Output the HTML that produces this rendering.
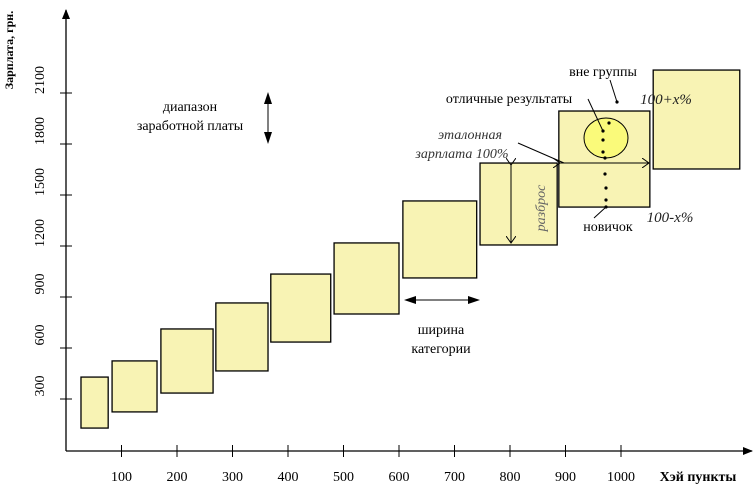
<!DOCTYPE html>
<html><head><meta charset="utf-8"><style>
body{margin:0;background:#fff}
svg{display:block;font-family:"Liberation Serif",serif}
</style></head><body>
<svg id="c" width="755" height="487" viewBox="0 0 755 487">
<defs>
<marker id="ah" markerWidth="10" markerHeight="8" refX="9" refY="4" orient="auto" markerUnits="userSpaceOnUse"><path d="M0,0L10,4L0,8z" fill="#000"/></marker>
<marker id="oa" markerWidth="8" markerHeight="10" refX="7" refY="5" orient="auto" markerUnits="userSpaceOnUse"><path d="M0,0L7,5L0,10" fill="none" stroke="#000"/></marker>
</defs>
<g id="boxes"></g>
<g id="axes"></g>
<g>
<text x="190" y="111" font-size="14" text-anchor="middle">диапазон</text>
<text x="190" y="130" font-size="14" text-anchor="middle">заработной платы</text>
<path d="M264,104L268,92L272,104z" fill="#000"/>
<line x1="268" y1="104" x2="268" y2="132" stroke="#000"/>
<path d="M264,132L268,144L272,132z" fill="#000"/>
<line x1="416" y1="300" x2="468" y2="300" stroke="#000"/>
<path d="M416,296L404,300L416,304z M468,296L480,300L468,304z" fill="#000"/>
<text x="441" y="334" font-size="14" text-anchor="middle">ширина</text>
<text x="441" y="353" font-size="14" text-anchor="middle">категории</text>
<line x1="511" y1="165" x2="511" y2="243" stroke="#000" marker-end="url(#oa)" marker-start="url(#oa)"/>
<text transform="translate(545,208) rotate(-90)" font-size="14" font-style="italic" fill="#666" text-anchor="middle">разброс</text>
<line x1="560" y1="163" x2="649" y2="163" stroke="#000" marker-end="url(#oa)" marker-start="url(#oa)"/>
<line x1="518" y1="143" x2="564" y2="163" stroke="#000"/>
<text x="470" y="139" font-size="14" font-style="italic" fill="#333" text-anchor="middle">эталонная</text>
<text x="462" y="158" font-size="14" font-style="italic" fill="#333" text-anchor="middle">зарплата 100%</text>
<ellipse cx="606" cy="138" rx="22" ry="20" fill="#fafa7a" stroke="#000"/>
<g fill="#000">
<circle cx="609" cy="123" r="1.6"/><circle cx="603" cy="131" r="1.6"/><circle cx="603" cy="140" r="1.6"/><circle cx="603" cy="152" r="1.6"/>
<circle cx="605" cy="158" r="1.6"/><circle cx="605" cy="174" r="1.6"/><circle cx="606" cy="188" r="1.6"/><circle cx="606" cy="200" r="1.6"/><circle cx="606" cy="207" r="1.6"/><circle cx="617" cy="102" r="1.6"/>
</g>
<line x1="588" y1="99" x2="603" y2="131" stroke="#000"/>
<line x1="610" y1="80" x2="617" y2="102" stroke="#000"/>
<line x1="606" y1="207" x2="594" y2="218" stroke="#000"/>
<text x="509" y="103" font-size="14" text-anchor="middle">отличные результаты</text>
<text x="603" y="76" font-size="14" text-anchor="middle">вне группы</text>
<text x="608" y="231" font-size="14" text-anchor="middle">новичок</text>
<text x="666" y="104" font-size="15" font-style="italic" fill="#222" text-anchor="middle">100+x%</text>
<text x="670" y="222" font-size="15" font-style="italic" fill="#222" text-anchor="middle">100-x%</text>
</g>
</svg>
<script>
const xTicks=[100,200,300,400,500,600,700,800,900,1000];
const yTicks=[300,600,900,1200,1500,1800,2100];
const boxX0=[27,83,171,270,369,483,607,746,888,1058];
const boxX1=[76,164,265,364,477,600,740,885,1052,1214];
const boxY0=[129,224,335,465,635,800,1012,1206,1429,1653];
const boxY1=[429,524,712,865,1035,1218,1465,1688,1994,2235];
const NS='http://www.w3.org/2000/svg';
const X=v=>66+v*0.555, Y=v=>450-v*0.17;
function mk(t,a,p){const e=document.createElementNS(NS,t);for(const k in a)e.setAttribute(k,a[k]);p.appendChild(e);return e;}
const bx=document.getElementById('boxes'), ax=document.getElementById('axes');
for(let i=0;i<boxX0.length;i++){
 const r=mk('rect',{x:X(boxX0[i]),y:Y(boxY1[i]),width:X(boxX1[i])-X(boxX0[i]),height:Y(boxY0[i])-Y(boxY1[i]),fill:'#f8f3b4',stroke:'#000','stroke-width':1.3},bx);
 
 
}
const xa=mk('line',{x1:66,y1:451,x2:752,y2:451,stroke:'#000','stroke-width':1.3,'marker-end':'url(#ah)'},ax);


const ya=mk('line',{x1:66,y1:451,x2:66,y2:10,stroke:'#000','stroke-width':1.3,'marker-end':'url(#ah)'},ax);


xTicks.forEach(v=>{
 const l=mk('line',{x1:X(v),y1:445,x2:X(v),y2:457,stroke:'#000'},ax);
 
 
 const t=mk('text',{x:X(v),y:481,'font-size':14,'text-anchor':'middle'},ax);t.textContent=v;
 
 
});
yTicks.forEach(v=>{
 const l=mk('line',{x1:60,y1:Y(v),x2:72,y2:Y(v),stroke:'#000'},ax);
 
 
 const t=mk('text',{transform:`translate(44,${Y(v)-13}) rotate(-90)`,'font-size':14,'text-anchor':'middle'},ax);t.textContent=v;
 
 
});
const xt=mk('text',{x:698,y:481,'font-size':14,'font-weight':'bold','text-anchor':'middle'},ax);xt.textContent='Хэй пункты';


const yt=mk('text',{transform:'translate(13,50) rotate(-90)','font-size':12,'font-weight':'bold','text-anchor':'middle'},ax);yt.textContent='Зарплата, грн.';


</script>
</body></html>
